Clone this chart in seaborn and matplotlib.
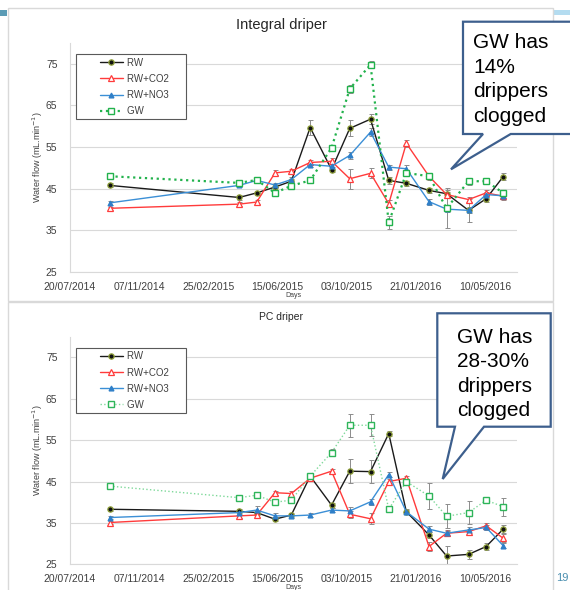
import matplotlib
matplotlib.use("Agg")
import matplotlib.pyplot as plt
import matplotlib.dates as mdates
from matplotlib.patches import Polygon, Rectangle
from matplotlib.lines import Line2D
from matplotlib.legend_handler import HandlerLine2D
import seaborn as sns
import pandas as pd
import numpy as np

# sampling dates (same for both drippers)
dates = pd.to_datetime([
    "2014-09-21", "2015-04-15", "2015-05-13", "2015-06-11", "2015-07-07",
    "2015-08-06", "2015-09-09", "2015-10-08", "2015-11-10", "2015-12-09",
    "2016-01-06", "2016-02-11", "2016-03-10", "2016-04-14", "2016-05-12",
    "2016-06-08"])

series_names = ["RW", "RW+CO2", "RW+NO3", "GW"]

# Integral driper (mL/min)
int_rw = [45.8, 42.9, 44.0, 45.4, 46.8, 59.7, 49.6, 59.5, 61.7, 47.0, 46.3, 44.6, 43.8, 39.8, 42.6, 47.9]
int_co2 = [40.3, 41.3, 41.8, 48.8, 49.2, 51.3, 51.6, 47.4, 48.7, 41.4, 55.9, 48.0, 43.6, 42.4, 44.0, 43.2]
int_no3 = [41.6, 45.8, 47.0, 45.9, 47.2, 50.8, 50.4, 53.0, 58.6, 50.2, 49.8, 41.9, 40.1, 39.8, 43.6, 43.3]
int_gw = [48.0, 46.4, 47.1, 44.0, 45.7, 47.0, 54.8, 69.0, 74.8, 36.9, 48.8, 48.0, 40.3, 46.8, 46.8, 44.0]

int_rw_err = [0.5, 0.6, 0.5, 0.6, 0.6, 1.9, 0.6, 1.9, 1.2, 0.8, 0.6, 0.6, 0.8, 2.8, 0.9, 0.8]
int_co2_err = [0.4, 0.5, 0.5, 0.6, 0.6, 0.7, 0.7, 2.4, 1.2, 0.8, 0.9, 0.6, 0.6, 0.6, 0.6, 0.8]
int_no3_err = [0.4, 0.5, 0.5, 0.5, 0.6, 0.6, 0.6, 0.8, 1.0, 0.6, 0.8, 0.7, 0.6, 0.7, 0.6, 0.6]
int_gw_err = [0.4, 0.6, 0.5, 0.5, 0.5, 0.6, 0.7, 0.9, 0.8, 1.5, 0.7, 0.8, 4.8, 0.8, 0.7, 0.8]

# PC driper (mL/min)
pc_rw = [38.3, 37.8, 37.5, 35.9, 36.9, 46.3, 39.3, 47.5, 47.4, 56.6, 37.7, 32.1, 27.0, 27.4, 29.3, 33.5]
pc_co2 = [35.1, 36.7, 36.9, 42.3, 42.1, 45.8, 47.5, 37.1, 36.0, 45.0, 45.8, 29.3, 32.5, 32.9, 34.3, 31.3]
pc_no3 = [36.3, 37.5, 38.1, 36.7, 36.7, 36.9, 38.1, 37.9, 40.1, 46.7, 37.7, 33.5, 32.5, 33.3, 33.9, 29.5]
pc_gw = [43.9, 41.1, 41.7, 40.0, 40.5, 46.3, 52.0, 58.6, 58.6, 38.3, 45.0, 41.5, 36.6, 37.5, 40.5, 38.9]

pc_rw_err = [0.4, 0.5, 0.5, 0.5, 0.5, 0.6, 0.6, 2.9, 2.8, 0.6, 0.5, 0.8, 2.5, 1.0, 0.8, 1.0]
pc_co2_err = [0.4, 0.5, 0.5, 0.5, 0.5, 0.5, 0.6, 0.9, 1.3, 0.6, 0.6, 1.0, 0.7, 0.7, 0.7, 1.0]
pc_no3_err = [0.4, 0.5, 1.0, 0.6, 0.5, 0.5, 0.5, 1.0, 0.8, 0.7, 0.6, 0.8, 0.6, 0.7, 0.6, 0.6]
pc_gw_err = [0.4, 0.5, 0.6, 0.5, 0.6, 0.7, 0.8, 2.8, 2.7, 0.7, 0.6, 3.2, 2.9, 2.8, 0.8, 2.2]

sns.set_theme(style="white")
plt.rcParams["font.family"] = ["Liberation Sans", "DejaVu Sans"]

fig = plt.figure(figsize=(5.7, 5.9), dpi=100)

W, H = 570.0, 590.0


def fx(px):
    return px / W


def fy(py):
    return 1 - py / H


# slide decorations / chart frames
fig.patches.append(Rectangle((0, fy(16)), fx(7), 6 / H, transform=fig.transFigure,
                             facecolor="#5b9bb5", edgecolor="none"))
fig.patches.append(Rectangle((fx(554), fy(15)), fx(16), 5 / H, transform=fig.transFigure,
                             facecolor="#b4dcf0", edgecolor="none"))
fig.patches.append(Rectangle((fx(8), fy(301)), fx(545), 293 / H, transform=fig.transFigure,
                             facecolor="none", edgecolor="#d9d9d9", linewidth=1))
fig.patches.append(Rectangle((fx(8), fy(600)), fx(545), 298 / H, transform=fig.transFigure,
                             facecolor="none", edgecolor="#d9d9d9", linewidth=1))

styles = {
    "RW": dict(color="#1a1a1a", marker="o", markersize=3.8, markerfacecolor="#111111",
               markeredgecolor="#8fa03a", markeredgewidth=0.9, linestyle="-", linewidth=1.0),
    "RW+CO2": dict(color="#ff3b3b", marker="^", markersize=4.5, markerfacecolor="white",
                   markeredgecolor="#ff3b3b", markeredgewidth=0.9, linestyle="-", linewidth=1.0),
    "RW+NO3": dict(color="#3b8fd6", marker="^", markersize=3.5, markerfacecolor="#2f7fc8",
                   markeredgecolor="#2f7fc8", markeredgewidth=0.9, linestyle="-", linewidth=1.0),
}


def draw_panel(ax, vals, errs, gw_style):
    for name, v, e in zip(series_names, vals, errs):
        st = styles[name] if name != "GW" else gw_style
        ax.errorbar(dates, v, yerr=e, fmt="none", ecolor="#8c8c8c", elinewidth=0.7,
                    capsize=1.8, capthick=0.7, zorder=1)
        sns.lineplot(x=dates, y=v, ax=ax, label=name, zorder=3, **st)

    start = pd.Timestamp("2014-07-20")
    ticks = pd.date_range(start, periods=7, freq="110D")
    ax.set_xticks(ticks)
    ax.xaxis.set_major_formatter(mdates.DateFormatter("%d/%m/%Y"))
    ax.set_xlim(start, start + pd.Timedelta(days=711))
    ax.set_ylim(25, 80)
    ax.set_yticks([25, 35, 45, 55, 65, 75])
    ax.grid(axis="y", color="#d9d9d9", linewidth=0.8)
    ax.grid(axis="x", visible=False)
    for s in ["top", "right"]:
        ax.spines[s].set_visible(False)
    for s in ["left", "bottom"]:
        ax.spines[s].set_color("#d9d9d9")
        ax.spines[s].set_linewidth(0.8)
    ax.tick_params(axis="both", length=0, labelsize=7.5, colors="#404040")
    ax.tick_params(axis="x", pad=7)
    ax.tick_params(axis="y", pad=9)
    ax.set_ylabel("Water flow (mL.min$^{-1}$)", fontsize=6.5, color="#404040", labelpad=0.5)
    ax.set_xlabel("Days", fontsize=5, color="#404040", labelpad=0)

    handles, labels = ax.get_legend_handles_labels()
    labels = [lab + " " * 5 for lab in labels]
    leg = ax.legend(handles, labels, loc="upper left", bbox_to_anchor=(0.013, 0.95),
                    fontsize=7, frameon=True, fancybox=False, edgecolor="#595959",
                    framealpha=1, handlelength=4.5, handletextpad=0.4, borderpad=0.35,
                    labelspacing=0.62, borderaxespad=0,
                    handler_map={Line2D: HandlerLine2D(xpad=2.1)})
    leg.get_frame().set_linewidth(0.8)
    for t in leg.get_texts():
        t.set_color("#404040")


ax1 = fig.add_axes([fx(70), fy(272), fx(447), 229 / H])
draw_panel(ax1, [int_rw, int_co2, int_no3, int_gw],
           [int_rw_err, int_co2_err, int_no3_err, int_gw_err],
           dict(color="#22b24c", marker="s", markersize=4.5, markerfacecolor="white",
                markeredgecolor="#22b24c", markeredgewidth=1.0, linestyle=":", linewidth=1.6))

ax2 = fig.add_axes([fx(70), fy(564.3), fx(447), 227.6 / H])
draw_panel(ax2, [pc_rw, pc_co2, pc_no3, pc_gw],
           [pc_rw_err, pc_co2_err, pc_no3_err, pc_gw_err],
           dict(color="#7fd99a", marker="s", markersize=4.5, markerfacecolor="white",
                markeredgecolor="#2fb55a", markeredgewidth=1.0, linestyle=":", linewidth=1.0))

fig.text(fx(281), fy(25), "Integral driper", ha="center", va="center",
         fontsize=10.5, color="#262626")
fig.text(fx(281), fy(317), "PC driper", ha="center", va="center",
         fontsize=7.5, color="#262626")

# callouts
edge = "#3d5f8d"
call1 = [(463, 21.7), (580, 21.7), (580, 134), (510.7, 134), (451, 169.3),
         (483, 134), (463, 134)]
call2 = [(437.3, 313.3), (550.7, 313.3), (550.7, 426.7), (484, 426.7),
         (442.7, 479), (455, 426.7), (437.3, 426.7)]
for pts in (call1, call2):
    fig.patches.append(Polygon([(fx(x), fy(y)) for x, y in pts], closed=True,
                               transform=fig.transFigure, facecolor="white",
                               edgecolor=edge, linewidth=1.6, zorder=5))

# baseline of the last line
fig.text(fx(473.3), fy(121.7), "GW has\n14%\ndrippers\nclogged", ha="left",
         va="baseline", fontsize=15, linespacing=1.36, color="black", zorder=6)
fig.text(fx(457.3), fy(416), "GW has\n28-30%\ndrippers\nclogged", ha="left",
         va="baseline", fontsize=15, linespacing=1.36, color="black", zorder=6)

fig.text(fx(556), fy(578), "19", fontsize=8, color="#4a8fb0", ha="left", va="center")

fig.savefig("out.png", dpi=100)
